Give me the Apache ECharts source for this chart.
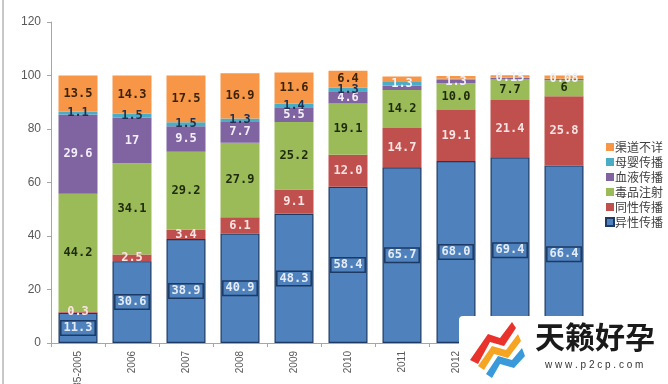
<!DOCTYPE html>
<html><head><meta charset="utf-8">
<script src="https://cdn.jsdelivr.net/npm/echarts@6/dist/echarts.min.js"></script>
<style>html,body{margin:0;padding:0;background:#fff}#c{width:668px;height:384px}</style>
</head><body><div id="c"></div>
<script>
const categories = ['1985-2005','2006','2007','2008','2009','2010','2011','2012','2013','2014'];
const yTicks = [0,20,40,60,80,100,120];
// bottom to top
const hetero   = [11.3,30.6,38.9,40.9,48.3,58.4,65.7,68.0,69.4,66.4];
const heteroLb = ['11.3','30.6','38.9','40.9','48.3','58.4','65.7','68.0','69.4','66.4'];
const homo     = [0.3,2.5,3.4,6.1,9.1,12.0,14.7,19.1,21.4,25.8];
const homoLb   = ['0.3','2.5','3.4','6.1','9.1','12.0','14.7','19.1','21.4','25.8'];
const drug     = [44.2,34.1,29.2,27.9,25.2,19.1,14.2,10.0,7.7,6];
const drugLb   = ['44.2','34.1','29.2','27.9','25.2','19.1','14.2','10.0','7.7','6'];
const blood    = [29.6,17,9.5,7.7,5.5,4.6,1.7,1.3,0.6,0.5];
const bloodLb  = ['29.6','17','9.5','7.7','5.5','4.6','','1.3','',''];
const mother   = [1.1,1.5,1.5,1.3,1.4,1.3,1.3,0.4,0.15,0.08];
const motherLb = ['1.1','1.5','1.5','1.3','1.4','1.3','1.3','','0.15','0.08'];
const unknown  = [13.5,14.3,17.5,16.9,11.6,6.4,2.0,1.0,0.8,1.2];
const unknownLb= ['13.5','14.3','17.5','16.9','11.6','6.4','','','',''];

const seriesDefs = [
  {name:'异性传播', data:hetero, lb:heteroLb, color:'#4f81bd', border:'#1c3a63', lc:'#e4ecf7', box:true},
  {name:'同性传播', data:homo, lb:homoLb, color:'#c0504d', border:'#c0504d', lc:'#fbe3e3'},
  {name:'毒品注射', data:drug, lb:drugLb, color:'#9bbb59', border:'#9bbb59', lc:'#1e2a0a'},
  {name:'血液传播', data:blood, lb:bloodLb, color:'#8064a2', border:'#8064a2', lc:'#f3eefa'},
  {name:'母婴传播', data:mother, lb:motherLb, color:'#4bacc6', border:'#4bacc6', lc:'#1f3050', lightFrom:6},
  {name:'渠道不详', data:unknown, lb:unknownLb, color:'#f79646', border:'#f79646', lc:'#3b2308'}
];

const series = seriesDefs.map(d => ({
  name: d.name, type:'bar', stack:'total', barWidth:39,
  itemStyle:{color:d.color, borderColor:d.border, borderWidth: d.box?1.2:0},
  data: d.data.map((v,i)=>{
    const o = {value:v};
    if (d.lightFrom !== undefined && i >= d.lightFrom) o.label = {color:'#eef4fb'};
    return o;
  }),
  label:{
    show:true, position:'inside',
    fontFamily:'DejaVu Sans Mono', fontWeight:'bold', fontSize:12,
    color:d.lc,
    formatter: p => d.lb[p.dataIndex],
    ...(d.box ? {backgroundColor:'#4f81bd', borderColor:'#1c3a63', borderWidth:1.5, padding:[1,2,0,2]} : {})
  }
}));

const chart = echarts.init(document.getElementById('c'), null, {renderer:'canvas'});
chart.setOption({
  animation:false,
  backgroundColor:'#fff',
  grid:{left:51, right:77, top:22, bottom:41, containLabel:false, outerBoundsMode:'none'},
  legend:{
    orient:'vertical', left:600, top:136, itemGap:3,
    itemWidth:8, itemHeight:8, icon:'rect',
    textStyle:{fontSize:12, lineHeight:12, color:'#404040', fontFamily:'Noto Sans CJK SC', padding:[0,0,0,-4]},
    data:['渠道不详','母婴传播','血液传播','毒品注射','同性传播','异性传播']
  },
  xAxis:{
    type:'category', data:categories,
    axisLine:{lineStyle:{color:'#a6a6a6'}},
    axisTick:{show:true, length:4, lineStyle:{color:'#a6a6a6'}},
    axisLabel:{rotate:90, fontSize:10, color:'#595959', fontFamily:'Liberation Sans', margin:8}
  },
  yAxis:{
    type:'value', min:0, max:120, interval:20,
    axisLine:{show:true, lineStyle:{color:'#a6a6a6'}},
    axisTick:{show:true, length:4, lineStyle:{color:'#a6a6a6'}},
    splitLine:{show:false},
    axisLabel:{fontSize:12, color:'#595959', fontFamily:'Liberation Sans', margin:10,
      formatter: v => yTicks.includes(v) ? String(v) : ''}
  },
  series,
  graphic:[
    {type:'rect', left:2, top:0, shape:{width:2, height:384}, style:{fill:'#c8c8c8'}},
    {type:'rect', left:459, top:316, shape:{width:209, height:68, r:4}, style:{fill:'#ffffff'}, z:100},
    {type:'polygon', shape:{points:[[470,360],[488,334],[500,338],[512,322],[516,328],[504,346],[490,342],[478,364]]}, style:{fill:'#e8322b'}, z:101},
    {type:'polygon', shape:{points:[[478,366],[492,346],[506,350],[518,334],[521,341],[508,358],[494,354],[484,370]]}, style:{fill:'#f6a523'}, z:101},
    {type:'polygon', shape:{points:[[486,374],[498,356],[512,360],[522,348],[525,356],[514,368],[500,364],[492,378]]}, style:{fill:'#3a9ad9'}, z:101},
    {type:'text', left:535, top:322, style:{text:'天籁好孕', font:'bold 30px "Noto Sans CJK SC"', fill:'#1a1a1a'}, z:101},
    {type:'text', left:545, top:360, style:{text:'w w w . p 2 c p . c o m', font:'10px "Liberation Sans"', fill:'#333'}, z:101}
  ]
});
</script></body></html>
